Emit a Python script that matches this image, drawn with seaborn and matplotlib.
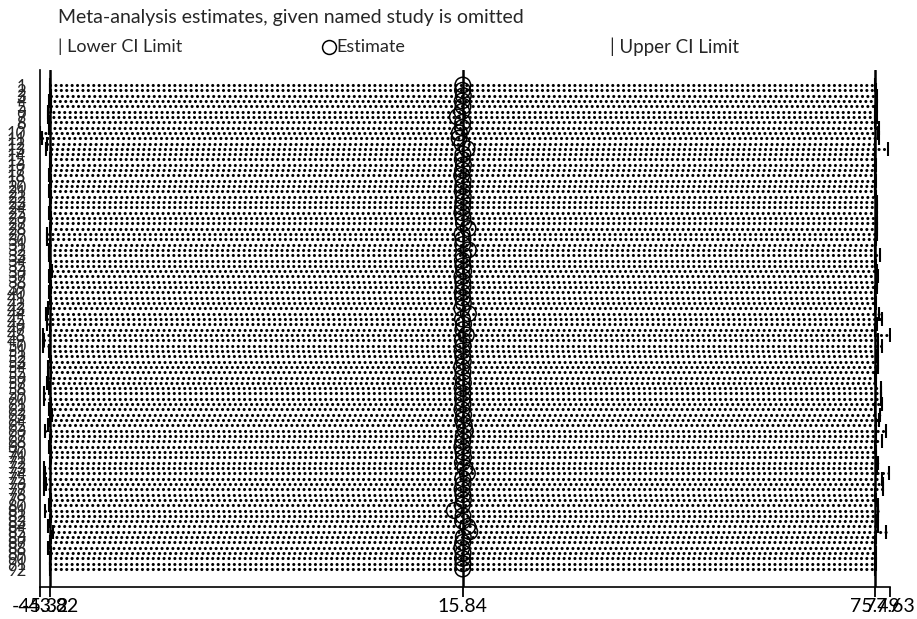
import numpy as np
import pandas as pd
import matplotlib
matplotlib.use("Agg")
import matplotlib.pyplot as plt
from matplotlib.lines import Line2D
import seaborn as sns

sns.set_theme(style="white")
plt.rcParams['font.family'] = ['Lato', 'DejaVu Sans']

# Leave-one-out meta-analysis: estimate and CI when each study is omitted
studies = [str(i) for i in range(1, 93)]

estimate = [
    15.84, 15.80, 15.92, 15.75, 15.88, 15.70, 15.05, 15.82, 15.78, 15.35,
    15.30, 15.72, 16.45, 15.85, 15.77, 15.93, 15.81, 15.68, 15.89, 15.83,
    15.76, 15.91, 15.84, 15.79, 15.71, 15.87, 15.94, 16.60, 15.74, 15.86,
    15.82, 16.65, 15.90, 15.78, 15.85, 15.97, 15.73, 15.83, 15.88, 15.76,
    15.81, 15.92, 15.70, 16.65, 15.79, 15.95, 15.84, 16.35, 15.77, 15.89,
    15.74, 15.83, 15.91, 15.68, 15.87, 15.80, 15.93, 15.75, 15.85, 15.79,
    15.88, 15.72, 15.96, 15.81, 16.05, 16.20, 15.90, 15.83, 15.71, 15.86,
    15.94, 15.78, 16.15, 16.50, 15.82, 15.89, 15.73, 15.85, 15.92, 15.76,
    14.60, 15.87, 15.80, 16.55, 16.85, 15.91, 15.83, 15.69, 15.88, 15.79,
    15.86, 15.81,
]

lower = [
    -43.82, -43.90, -43.70, -44.05, -43.78, -44.10, -44.20, -43.85, -43.95, -45.25,
    -45.00, -44.30, -44.45, -43.80, -43.92, -43.68, -43.86, -44.08, -43.74, -43.83,
    -43.96, -43.72, -43.84, -43.90, -44.02, -43.77, -43.66, -43.88, -44.35, -44.30,
    -43.85, -44.06, -44.00, -43.94, -43.81, -43.62, -44.01, -43.86, -43.76, -43.97,
    -43.87, -43.70, -44.12, -44.40, -44.35, -44.30, -43.84, -44.90, -44.80, -44.90,
    -44.00, -43.86, -43.71, -44.15, -43.79, -44.20, -44.25, -44.03, -44.80, -44.70,
    -43.76, -44.07, -43.64, -43.88, -44.10, -44.60, -43.73, -43.85, -44.09, -43.80,
    -43.69, -43.94, -44.80, -44.55, -44.70, -44.50, -44.70, -43.83, -43.70, -43.96,
    -44.60, -43.77, -43.88, -44.20, -43.40, -43.72, -43.85, -44.11, -43.79, -43.92,
    -43.81, -43.87,
]

upper = [
    75.50, 75.60, 75.72, 75.65, 75.70, 75.45, 75.68, 75.52, 76.00, 75.95,
    76.00, 75.40, 77.35, 75.53, 75.48, 75.66, 75.50, 75.44, 75.57, 75.51,
    75.46, 75.63, 75.70, 75.75, 75.62, 75.79, 75.70, 75.68, 75.75, 75.66,
    75.52, 75.41, 76.20, 75.47, 75.54, 75.80, 75.83, 75.75, 75.78, 75.46,
    75.51, 75.62, 75.40, 76.05, 76.50, 75.70, 75.52, 77.63, 75.90, 76.50,
    75.95, 75.81, 75.90, 75.85, 75.56, 75.49, 75.65, 76.30, 76.35, 76.30,
    76.50, 75.42, 76.20, 76.10, 75.60, 77.05, 75.60, 76.50, 75.43, 75.55,
    75.63, 75.90, 75.80, 77.55, 76.50, 76.60, 76.65, 75.53, 75.61, 75.90,
    75.90, 75.86, 75.80, 75.91, 77.05, 75.59, 75.52, 75.41, 75.57, 75.48,
    75.54, 75.50,
]

# Overall (all studies) estimate and CI, plus the extreme limits
overall_lo, overall_est, overall_hi = -43.82, 15.84, 75.49
axis_min, axis_max = -45.32, 77.63
xtick_values = [axis_min, overall_lo, overall_est, overall_hi, axis_max]
xtick_labels = ["-45.32", "-43.82", "15.84", "75.49", "77.63"]

df = pd.DataFrame({"study": studies, "estimate": estimate,
                   "lower": lower, "upper": upper})
df["row"] = np.arange(len(df))

W, H = 917, 619
fig = plt.figure(figsize=(W / 100, H / 100), dpi=100)
ax = fig.add_axes([40 / W, (H - 587) / H, 850 / W, (587 - 70) / H])

step = (569 - 85) / (len(df) - 1)
ax.set_xlim(axis_min, axis_max)
ax.set_ylim(94.38, -15 / step)

# dotted CI span for each omitted study (round dots on a ~5px pitch)
ax.hlines(df["row"], df["lower"], df["upper"], colors="black",
          linestyles=[(0, (0.01, 1.72))], linewidth=2.25,
          capstyle="round", zorder=2)

# overall estimate and CI reference lines
for v in (overall_lo, overall_est, overall_hi):
    ax.axvline(v, color="black", lw=1.8, zorder=3)

sns.scatterplot(data=df, x="lower", y="row", marker="|", s=90,
                color="black", linewidth=1.5, ax=ax, zorder=4, legend=False)
sns.scatterplot(data=df, x="upper", y="row", marker="|", s=90,
                color="black", linewidth=1.5, ax=ax, zorder=4, legend=False)
sns.scatterplot(data=df, x="estimate", y="row", marker="o", s=125,
                facecolors="none", edgecolors="black", linewidth=1.1,
                ax=ax, zorder=5, legend=False)

ax.set_yticks(df["row"])
ax.set_yticklabels(df["study"], fontsize=12)
ax.tick_params(axis="y", length=0, pad=10)
ax.set_xticks(xtick_values)
ax.set_xticklabels(xtick_labels, fontsize=14)
ax.tick_params(axis="x", direction="out", length=7, width=1.3, pad=1,
               colors="black", bottom=True)
ax.set_xlabel("")
ax.set_ylabel("")
for side in ("top", "right"):
    ax.spines[side].set_visible(False)
for side in ("left", "bottom"):
    ax.spines[side].set_color("black")
    ax.spines[side].set_linewidth(1.2)
ax.grid(False)

# title and legend row
fig.text(58 / W, 1 - 18 / H, "Meta-analysis estimates, given named study is omitted",
         fontsize=14, va="center", ha="left")
fig.text(58 / W, 1 - 47 / H, "| Lower CI Limit", fontsize=13, va="center", ha="left")
fig.add_artist(Line2D([329 / W], [1 - 47 / H], marker="o", markersize=10,
                      markerfacecolor="none", markeredgecolor="black",
                      markeredgewidth=1.1, transform=fig.transFigure))
fig.text(336 / W, 1 - 47 / H, "Estimate", fontsize=13, va="center", ha="left")
fig.text(610 / W, 1 - 47 / H, "| Upper CI Limit", fontsize=13.5, va="center", ha="left")

fig.savefig("out.png", dpi=100, facecolor="white")
